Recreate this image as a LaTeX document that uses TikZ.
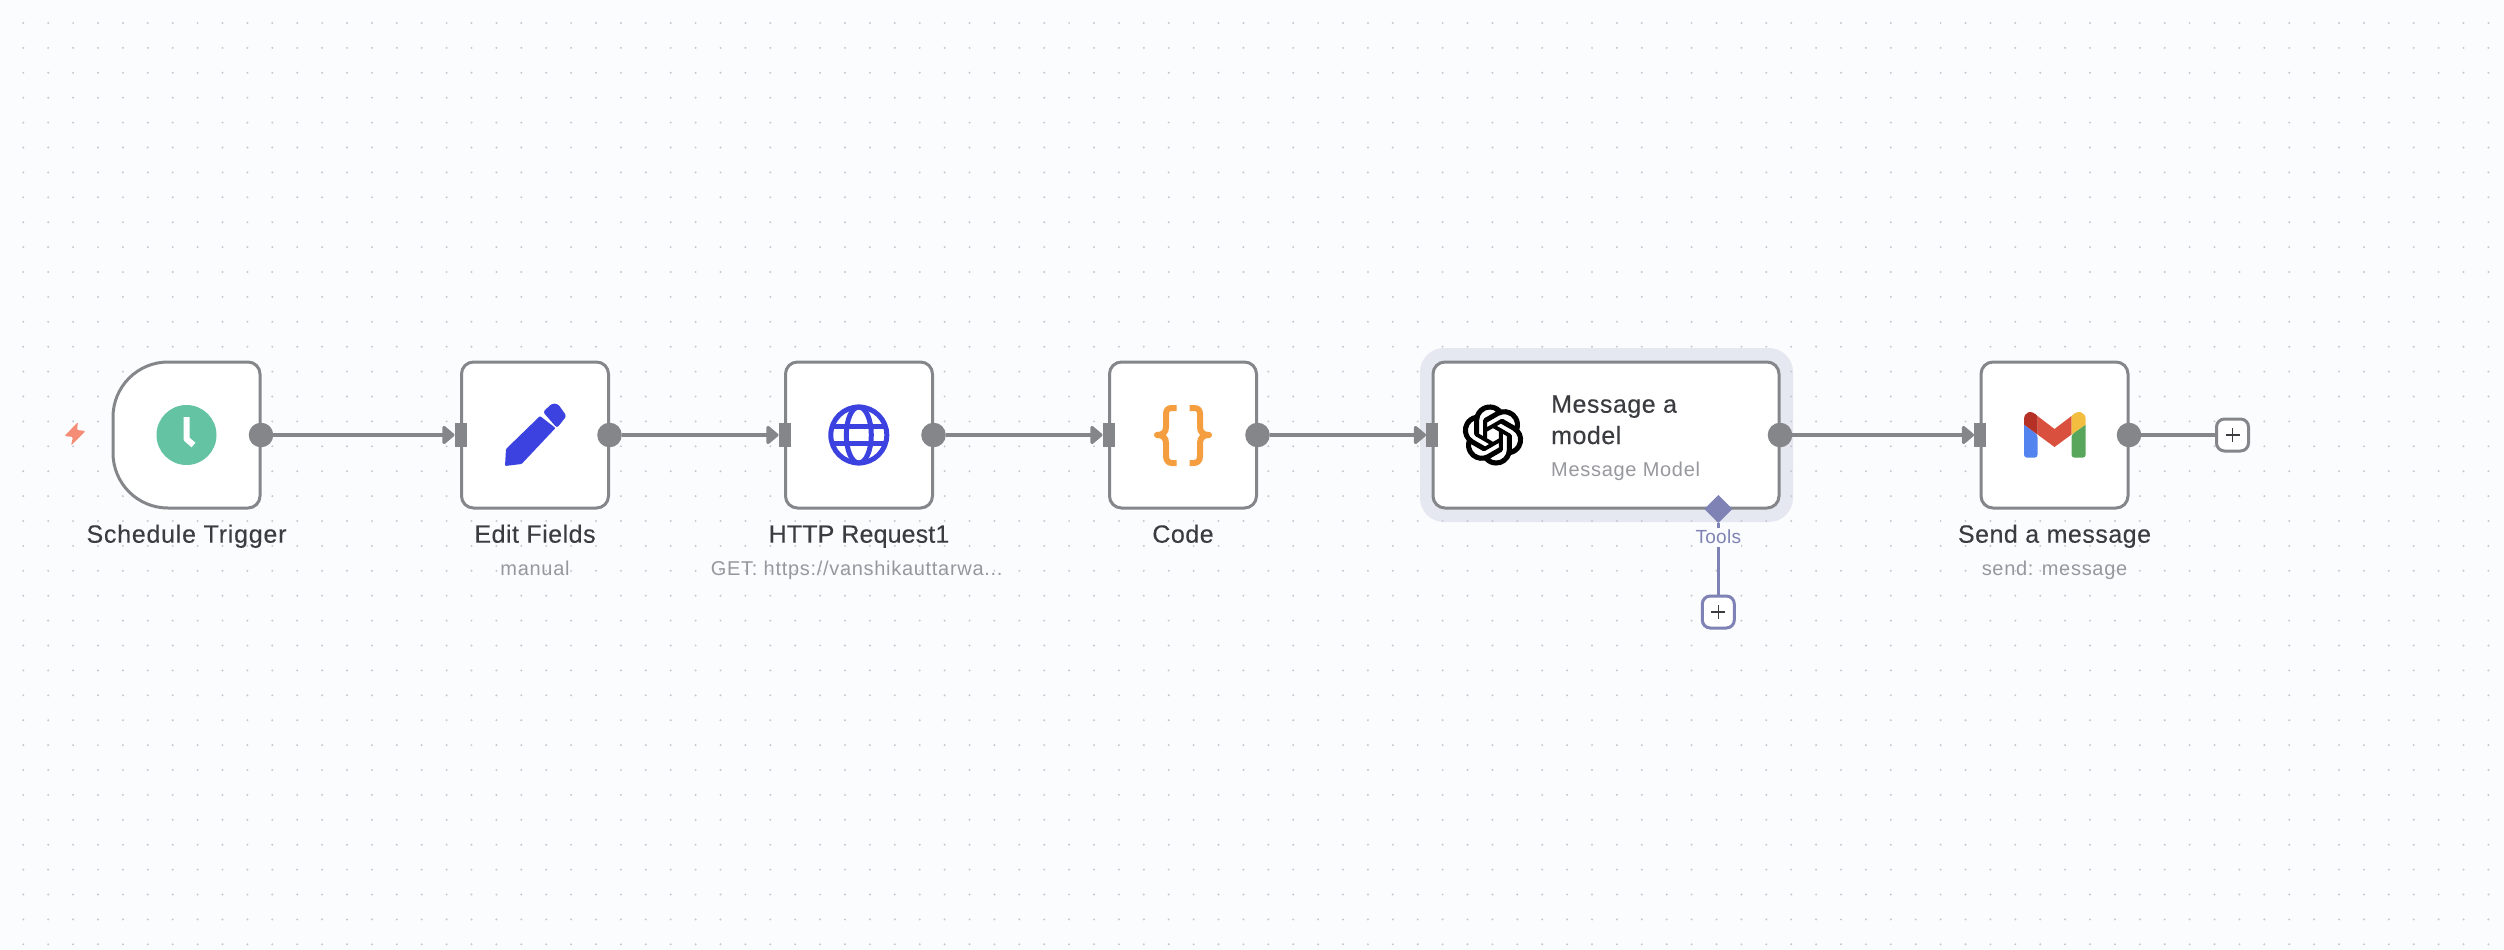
\documentclass[tikz,border=0pt]{standalone}
\usepackage{fontspec}
\setmainfont{Liberation Sans}
\usetikzlibrary{arrows.meta,shapes.geometric,svg.path}
\definecolor{bgcol}{HTML}{FBFCFE}
\definecolor{dotcol}{HTML}{C6C8CE}
\definecolor{halocol}{HTML}{E5E8F1}
\definecolor{linecol}{HTML}{85868A}
\definecolor{labcol}{HTML}{3B3C40}
\definecolor{subcol}{HTML}{97989E}
\definecolor{toolcol}{HTML}{7E82B4}
\definecolor{indigo}{HTML}{3B42E0}
\definecolor{boltcol}{HTML}{F58D76}
\definecolor{clockcol}{HTML}{63C3A2}
\definecolor{bracecol}{HTML}{F59E40}
\definecolor{gblue}{HTML}{5283EE}
\definecolor{ggreen}{HTML}{57A65C}
\definecolor{gred}{HTML}{D9503F}
\definecolor{gdark}{HTML}{B53025}
\definecolor{gyellow}{HTML}{F3BE3F}
\tikzset{
  wfbox/.style={draw=linecol,fill=white,line width=3pt,rounded corners=12pt,minimum height=146pt,inner sep=0pt,outer sep=0pt},
  outdot/.style={circle,fill=linecol,minimum size=24.6pt,inner sep=0pt,outer sep=0pt,xshift=1pt},
  inport/.style={rectangle,fill=linecol,minimum width=12pt,minimum height=24.6pt,inner sep=0pt,outer sep=0pt,xshift=-1pt},
  conn/.style={draw=linecol,line width=3.2pt,-{Triangle[length=13pt,width=21pt,round]}},
  plain/.style={draw=linecol,line width=3.2pt},
  addbox/.style={draw=#1,fill=white,line width=3pt,rounded corners=8pt,minimum size=32pt,inner sep=0pt,outer sep=0pt},
  lab/.style={anchor=base,inner sep=0pt,text=labcol,font=\fontsize{25}{28}\selectfont\addfontfeature{LetterSpace=2,FakeBold=0.2}},
  sublab/.style={anchor=base,inner sep=0pt,text=subcol,font=\fontsize{20}{24}\selectfont\addfontfeature{LetterSpace=3.5}},
  plussign/.style={draw=labcol,line width=1.6pt},
}
\begin{document}
\begin{tikzpicture}[x=1pt,y=-1pt]
\useasboundingbox (0,0) rectangle (2504,950);
\fill[bgcol] (0,0) rectangle (2504,950);
\node[fill=halocol,rounded corners=24pt,minimum width=373pt,minimum height=174pt,inner sep=0pt] (halo) at (1606.5,435) {};
\foreach \i in {0,...,99}{\foreach \j in {0,...,37}{
  \fill[dotcol] ({23.3+24.9*\i},{23+24.9*\j}) circle (1.1pt);}}

% nodes
\node[wfbox,draw=none,fill=none,minimum width=147pt] (sched) at (186.5,435) {};
\draw[draw=linecol,fill=white,line width=3pt] (168,362) -- (248,362) .. controls (254.6,362) and (260,367.4) .. (260,374) -- (260,496) .. controls (260,502.6) and (254.6,508) .. (248,508) -- (168,508) .. controls (137.6,508) and (113,483.4) .. (113,453) -- (113,417) .. controls (113,386.6) and (137.6,362) .. (168,362) -- cycle;
\node[wfbox,minimum width=147pt] (edit) at (535,435) {};
\node[wfbox,minimum width=147pt] (http) at (859,435) {};
\node[wfbox,minimum width=147pt] (code) at (1183,435) {};
\node[wfbox,minimum width=346pt] (msg) at (1606,435) {};
\node[wfbox,minimum width=147pt] (send) at (2054.5,435) {};

% ports
\node[outdot] (schedout) at (sched.east) {};
\node[outdot] (editout) at (edit.east) {};
\node[outdot] (httpout) at (http.east) {};
\node[outdot] (codeout) at (code.east) {};
\node[outdot] (msgout) at (msg.east) {};
\node[outdot] (sendout) at (send.east) {};
\node[inport] (editin) at (edit.west) {};
\node[inport] (httpin) at (http.west) {};
\node[inport] (codein) at (code.west) {};
\node[inport] (msgin) at (msg.west) {};
\node[inport] (sendin) at (send.west) {};

% connectors
\draw[conn] (schedout) -- (editin);
\draw[conn] (editout) -- (httpin);
\draw[conn] (httpout) -- (codein);
\draw[conn] (codeout) -- (msgin);
\draw[conn] (msgout) -- (sendin);
\node[addbox=linecol] (sendadd) at (2232.5,435) {};
\draw[plain] (sendout) -- (sendadd);
\draw[plussign] (2232.5,428) -- (2232.5,442) (2225.5,435) -- (2239.5,435);

% tools
\node[diamond,fill=toolcol,minimum width=28pt,minimum height=28pt,inner sep=0pt,outer sep=0pt] (tooldia) at (1718.3,509) {};
\node[addbox=toolcol] (tooladd) at (1718.3,612) {};
\draw[toolcol,line width=3.5pt] (tooldia) -- (tooladd);
\draw[plussign] (1718.3,605) -- (1718.3,619) (1711.3,612) -- (1725.3,612);
\node[anchor=base,fill=bgcol,inner sep=0pt,text depth=3pt,minimum height=19pt,text=toolcol,font=\fontsize{19}{22}\selectfont\addfontfeature{LetterSpace=1.5}] (toollab) at (1718.3,543) {Tools};

% labels
\node[lab,font=\fontsize{25}{28}\selectfont\addfontfeature{LetterSpace=3,FakeBold=0.2}] (l1) at (186.5,542.7) {Schedule Trigger};
\node[lab] (l2) at (535,542.7) {Edit Fields};
\node[sublab] (s2) at (535,575) {manual};
\node[lab,font=\fontsize{25}{28}\selectfont\addfontfeature{LetterSpace=0.5,FakeBold=0.2}] (l3) at (859,542.7) {HTTP Request1};
\node[sublab] (s3) at (856.7,575) {GET: https://vanshikauttarwa...};
\node[lab] (l4) at (1183,542.7) {Code};
\node[lab] (l6) at (2054.5,542.7) {Send a message};
\node[sublab] (s6) at (2054.5,575) {send: message};
\node[lab,anchor=base west] (m1) at (1551,412.7) {Message a};
\node[lab,anchor=base west] (m2) at (1551,444) {model};
\node[sublab,anchor=base west] (m3) at (1551,476) {Message Model};

% bolt
\fill[fill=boltcol,rounded corners=1.2pt] (78,422) -- (64.5,436) -- (73,437) -- (71,445.5) -- (85.5,431) -- (77,430) -- cycle;

% clock
\fill[fill=clockcol] (186.5,435) circle (30pt);
\draw[white,line width=6pt,line join=round] (186.5,417) -- (186.5,439) -- (193.5,445);

% pencil
\fill[indigo,rounded corners=1pt] (505,466) -- (506,449) -- (540,416) -- (555.5,428) -- (521.6,464) -- cycle;
\fill[indigo,rounded corners=2.5pt] (543,412) -- (552,403.5) -- (558,404) -- (566.5,416) -- (557,428) -- cycle;

% globe
\draw[indigo,line width=5pt] (858.8,435) circle (28pt);
\draw[indigo,line width=5pt] (858.8,435) ellipse (12.5pt and 28pt);
\draw[indigo,line width=5pt] (832,426.5) -- (885.6,426.5) (832,443.5) -- (885.6,443.5);

% braces
\draw[bracecol,line width=6pt,line join=round] (1176.5,408) -- (1172,408) .. controls (1168,408) and (1166,410) .. (1166,414) -- (1166,427) .. controls (1166,432) and (1163,435) .. (1157,435) .. controls (1163,435) and (1166,438) .. (1166,443) -- (1166,456) .. controls (1166,460) and (1168,463) .. (1172,463) -- (1176.5,463);
\draw[bracecol,line width=6pt,line join=round] (1189.5,408) -- (1194,408) .. controls (1198,408) and (1200,410) .. (1200,414) -- (1200,427) .. controls (1200,432) and (1203,435) .. (1209,435) .. controls (1203,435) and (1200,438) .. (1200,443) -- (1200,456) .. controls (1200,460) and (1198,463) .. (1194,463) -- (1189.5,463);

% openai
\begin{scope}[shift={(1463,405)},yscale=-1,scale=2.5]
\filldraw[black,line width=1.1pt,even odd rule] svg {M22.2819 9.8211a5.9847 5.9847 0 0 0-.5157-4.9108 6.0462 6.0462 0 0 0-6.5098-2.9A6.0651 6.0651 0 0 0 4.9807 4.1818a5.9847 5.9847 0 0 0-3.9977 2.9 6.0462 6.0462 0 0 0 .7427 7.0966 5.98 5.98 0 0 0 .511 4.9107 6.051 6.051 0 0 0 6.5146 2.9001A5.9847 5.9847 0 0 0 13.2599 24a6.0557 6.0557 0 0 0 5.7718-4.2058 5.9894 5.9894 0 0 0 3.9977-2.9001 6.0557 6.0557 0 0 0-.7475-7.0729z M13.2599 22.4292a4.4755 4.4755 0 0 1-2.8764-1.0408l.1419-.0804 4.7783-2.7582a.7948.7948 0 0 0 .3927-.6813v-6.7369l2.02 1.1686a.071.071 0 0 1 .038.052v5.5826a4.504 4.504 0 0 1-4.4945 4.4944z M3.5992 18.3038a4.4708 4.4708 0 0 1-.5346-3.0137l.142.0852 4.783 2.7582a.7712.7712 0 0 0 .7806 0l5.8428-3.3685v2.3324a.0804.0804 0 0 1-.0332.0615L9.74 19.9502a4.4992 4.4992 0 0 1-6.1408-1.6464z M2.3408 7.8956a4.485 4.485 0 0 1 2.3655-1.9728V11.6a.7664.7664 0 0 0 .3879.6765l5.8144 3.3543-2.0201 1.1685a.0757.0757 0 0 1-.071 0l-4.8303-2.7865A4.504 4.504 0 0 1 2.3408 7.872z M18.9371 11.7514L13.1038 8.364 15.1192 7.2a.0757.0757 0 0 1 .071 0l4.8303 2.7913a4.4944 4.4944 0 0 1-.6765 8.1042v-5.6772a.79.79 0 0 0-.407-.667z M20.9478 8.7283l-.142-.0852-4.7735-2.7818a.7759.7759 0 0 0-.7854 0L9.409 9.2297V6.8974a.0662.0662 0 0 1 .0284-.0615l4.8303-2.7866a4.4992 4.4992 0 0 1 6.6802 4.66z M8.3065 12.863l-2.02-1.1638a.0804.0804 0 0 1-.038-.0567V6.0742a4.4992 4.4992 0 0 1 7.3757-3.4537l-.142.0805L8.704 5.459a.7948.7948 0 0 0-.3927.6813z M9.4041 10.4976l2.602-1.4998 2.6069 1.4998v2.9994l-2.5974 1.4997-2.6067-1.4997Z};
\end{scope}

% gmail
\fill[gblue,rounded corners=3pt] (2024,424.5) -- (2024,457.7) -- (2037.5,457.7) -- (2037.5,434.5) [sharp corners] -- cycle;
\fill[ggreen,rounded corners=3pt] (2085.7,424.5) -- (2085.7,457.7) -- (2071.5,457.7) -- (2071.5,434.5) [sharp corners] -- cycle;
\fill[gred] (2037.5,416) -- (2054.5,429) -- (2071.5,416) -- (2071.5,434.5) -- (2054.5,447) -- (2037.5,434.5) -- cycle;
\fill[gdark] (2024,424.5) -- (2024,419.5) .. controls (2024,412) and (2031,409) .. (2037.5,416) -- (2037.5,434.5) -- cycle;
\fill[gyellow] (2085.7,424.5) -- (2085.7,419.5) .. controls (2085.7,412) and (2078,409) .. (2071.5,416) -- (2071.5,434.5) -- cycle;
\end{tikzpicture}
\end{document}
